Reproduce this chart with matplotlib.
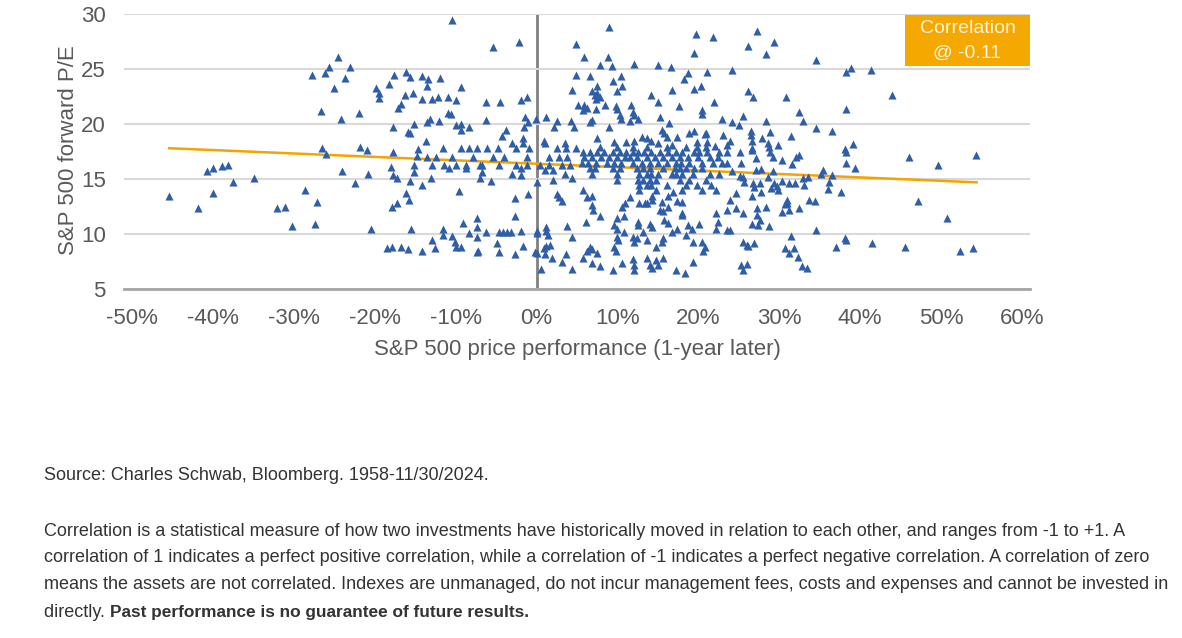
import numpy as np
import matplotlib
matplotlib.use("Agg")
import matplotlib.pyplot as plt
from matplotlib.patches import Rectangle

plt.rcParams['font.family'] = ['Liberation Sans', 'DejaVu Sans']

# (S&P 500 1-year-later price performance %, forward P/E)
far_left = [(-45.4, 13.5), (-41.9, 12.4), (-40.7, 15.7), (-40.0, 16.0), (-38.9, 16.2), (-38.1, 16.3),
            (-37.5, 14.7), (-40.0, 13.7), (-34.9, 15.1), (-32.1, 12.4), (-31.1, 12.5)]

left_low = [(-26.0, 17.3), (-24.0, 15.7), (-20.8, 15.5), (-22.4, 14.6), (-28.6, 14.0), (-27.1, 12.9),
            (-30.2, 10.7), (-27.4, 10.9), (-20.5, 10.5), (-21.0, 17.6), (-17.8, 17.5), (-18.0, 16.1),
            (-17.7, 15.4), (-17.2, 15.1), (-15.7, 14.8), (-15.2, 16.3), (-15.1, 15.6), (-14.8, 17.1),
            (-13.6, 17.0), (-14.1, 14.5), (-16.1, 13.7), (-15.8, 13.1), (-17.2, 12.8), (-17.9, 12.5),
            (-15.5, 10.5), (-18.5, 8.7), (-17.9, 8.8), (-16.8, 8.8), (-15.9, 8.6), (-14.1, 8.5)]

left_high = [(-24.6, 26.1), (-25.6, 25.2), (-23.0, 25.2), (-27.8, 24.5), (-26.2, 24.6), (-23.7, 24.2),
             (-25.1, 23.3), (-26.6, 21.2), (-22.0, 21.0), (-24.2, 20.5), (-26.5, 17.8), (-21.8, 17.9),
             (-19.8, 23.3), (-19.5, 22.8), (-19.5, 22.4), (-18.2, 23.6), (-17.6, 24.5), (-16.1, 24.7),
             (-15.6, 24.3), (-14.2, 24.4), (-13.5, 23.5), (-13.4, 24.1), (-16.2, 22.6), (-15.3, 22.8),
             (-14.1, 22.3), (-16.7, 21.8), (-17.1, 21.5), (-17.8, 19.7), (-15.2, 20.0), (-15.9, 19.3),
             (-15.6, 19.2), (-13.5, 20.2), (-13.7, 18.5), (-14.6, 17.7)]

mid_high = [(-10.4, 29.5), (-5.4, 27.0), (-2.2, 27.5), (4.9, 27.3), (-11.9, 24.2), (-9.4, 23.4),
            (-12.9, 22.3), (-12.2, 22.5), (-10.9, 22.5), (-9.9, 22.2), (-6.2, 22.0), (-4.5, 22.0),
            (-1.9, 22.2), (-1.2, 22.5), (4.9, 24.5), (4.4, 23.1), (5.1, 21.7), (-13.2, 20.5),
            (-12.1, 20.3), (-11.0, 21.0), (-10.6, 20.9), (-9.9, 19.9), (-9.4, 20.0), (-9.4, 19.5),
            (-8.3, 19.7), (-6.3, 20.4), (-3.8, 19.5), (-4.3, 18.9), (-3.0, 18.3), (-1.7, 18.7),
            (-1.6, 19.7), (-1.4, 20.6), (-1.1, 20.2), (-0.1, 20.5), (1.2, 20.6), (2.5, 20.3),
            (2.2, 19.7), (4.3, 20.3), (4.6, 19.7), (0.9, 18.5), (1.0, 18.3), (-1.7, 18.3), (3.5, 18.3)]

mid_rows = [(17.8, [-11.6, -9.3, -8.4, -7.3, -6.1, -4.8, -2.5, -0.9, 2.5, 3.7, 4.9]),
            (17.0, [-12.4, -10.4, -7.9, -5.4, -4.0, -1.2, 1.6, 2.8, 3.8]),
            (16.3, [-12.9, -11.4, -9.9, -8.7, -7.0, -6.7, -4.6, -2.5, -1.2, 0.4, 1.6, 3.1, 4.1])]

mid_low = [(-10.8, 16.0), (-8.7, 16.0), (-6.8, 15.6), (-3.0, 15.5), (-1.9, 16.0), (-1.9, 15.4),
           (1.0, 15.8), (2.0, 15.8), (3.5, 15.5), (-13.0, 15.1), (-7.0, 15.1), (-5.6, 14.8),
           (0.0, 14.7), (2.0, 14.9), (4.4, 15.1), (-9.6, 13.9), (-2.7, 13.3), (-1.0, 13.6),
           (2.5, 13.6), (2.8, 13.4), (3.1, 13.0), (-2.7, 11.6), (-7.4, 11.5), (-9.1, 11.0),
           (-7.4, 10.6), (-11.6, 10.5), (-6.2, 10.2), (-4.6, 10.2), (-4.1, 10.2), (-3.6, 10.2),
           (-3.1, 10.2), (-1.9, 10.3), (0.0, 10.3), (0.1, 10.1), (1.2, 10.6), (1.2, 10.3),
           (1.4, 9.9), (3.8, 10.7), (4.4, 9.7), (-12.9, 9.5), (-12.6, 8.7), (-11.6, 9.9),
           (-10.5, 9.8), (-10.1, 9.3), (-9.9, 8.8), (-9.4, 8.8), (-8.4, 10.1), (-7.3, 9.7),
           (-7.4, 8.4), (-7.2, 8.5), (-4.9, 9.2), (-4.6, 8.4), (-2.7, 8.2), (-1.7, 8.9),
           (-0.2, 8.4), (0.1, 8.3), (0.9, 8.7), (1.2, 8.9), (1.7, 9.0), (1.0, 8.2), (1.9, 7.8),
           (0.5, 6.8), (3.1, 7.5), (3.7, 8.2), (4.4, 6.8)]

right_high = [(8.9, 28.8), (19.7, 28.2), (21.8, 27.9), (19.5, 26.5), (5.9, 26.1), (8.8, 26.1),
              (7.8, 25.4), (9.3, 25.3), (12.0, 25.5), (15.0, 25.4), (16.6, 25.2), (18.7, 24.6),
              (18.2, 24.1), (21.1, 24.7), (6.6, 24.4), (10.5, 24.4), (9.4, 23.9), (10.6, 23.5),
              (7.5, 23.5), (6.8, 23.0), (7.2, 22.6), (7.5, 22.8), (7.8, 22.5), (7.3, 22.3),
              (10.0, 23.0), (14.2, 22.6), (16.8, 23.1), (19.5, 23.2), (20.3, 23.5), (15.0, 22.0),
              (17.6, 21.6), (21.9, 22.0), (5.9, 21.7), (6.2, 21.5), (5.7, 21.3), (7.3, 21.4),
              (8.5, 21.7), (9.8, 21.6), (9.9, 21.4), (11.7, 21.7), (11.9, 21.1), (12.1, 20.8),
              (12.5, 20.5), (10.3, 20.8), (10.5, 20.5), (11.5, 20.3), (15.2, 20.6), (16.4, 20.1),
              (20.4, 21.3), (20.5, 20.9), (22.9, 20.5), (6.6, 20.2), (6.9, 20.4), (9.0, 19.7),
              (15.5, 19.5), (15.8, 19.2), (16.1, 18.8), (17.4, 18.8), (18.9, 19.2), (19.5, 19.4),
              (20.8, 19.1), (21.0, 19.2), (23.1, 19.0), (7.5, 18.7), (9.6, 18.4), (19.8, 18.4),
              (21.1, 18.4), (11.1, 18.4), (12.1, 18.5), (13.0, 18.8), (13.6, 18.7), (14.2, 18.5),
              (15.0, 18.3), (16.8, 18.1), (18.5, 17.9), (23.5, 18.1), (7.8, 17.9), (9.9, 17.9),
              (11.9, 17.9), (13.6, 17.9), (16.1, 17.9), (19.8, 17.9), (21.0, 17.9), (22.0, 18.0)]

right_rows = [(17.5, [5.7, 6.6, 7.5, 8.4, 9.4, 10.3, 11.1, 11.9, 12.5, 13.3, 14.2, 15.2, 16.2, 17.3,
                      18.0, 19.5, 20.1, 21.1, 22.6, 23.5]),
              (17.0, [5.9, 6.9, 8.0, 9.0, 9.9, 10.9, 11.5, 12.4, 13.6, 14.6, 15.6, 16.7, 17.7, 18.7,
                      19.9, 21.4, 22.4]),
              (16.5, [5.6, 6.3, 7.4, 8.7, 9.6, 10.5, 11.9, 13.0, 14.0, 15.0, 16.1, 17.3, 17.9, 18.9,
                      20.4, 21.8, 22.9, 23.6]),
              (16.0, [6.6, 7.2, 9.4, 10.3, 12.4, 13.1, 14.0, 15.6, 17.1, 17.7, 18.5, 19.5, 20.4]),
              (15.5, [6.9, 9.9, 12.7, 13.6, 14.2, 15.0, 16.7, 17.3, 18.0, 19.3, 21.4, 22.6]),
              (14.9, [9.9, 12.5, 13.1, 14.0, 14.8, 17.7, 18.9, 21.0]),
              (14.5, [12.7, 13.6, 14.2, 16.1, 18.5, 19.8, 21.6]),
              (14.0, [12.7, 14.8, 18.0, 20.4, 22.2])]

right_low = [(5.7, 14.0), (6.8, 13.5), (6.2, 13.4), (6.8, 12.6), (7.0, 12.2), (7.9, 11.6), (6.1, 11.1),
             (11.5, 13.4), (10.9, 12.8), (10.6, 12.5), (12.7, 12.8), (13.4, 12.8), (13.7, 12.8),
             (14.3, 13.5), (14.3, 13.1), (15.5, 12.9), (15.2, 12.2), (15.6, 12.1), (16.2, 13.5),
             (16.9, 13.8), (16.2, 12.5), (17.4, 13.0), (18.0, 12.9), (18.0, 11.9), (18.0, 11.7),
             (10.8, 11.6), (9.9, 11.5), (9.6, 10.8), (9.9, 10.5), (12.5, 11.1), (12.6, 10.8),
             (14.0, 10.9), (14.3, 10.6), (15.8, 11.3), (16.3, 11.0), (16.7, 10.2), (10.8, 10.2),
             (13.1, 10.2), (17.4, 10.5), (18.7, 10.8), (19.2, 10.5), (20.1, 10.9), (22.2, 11.9),
             (22.4, 11.1), (22.2, 10.5), (23.5, 10.4), (23.5, 12.2), (9.9, 9.7), (10.1, 9.5),
             (11.9, 9.7), (12.1, 9.3), (12.4, 9.6), (13.6, 9.5), (15.6, 9.6), (15.5, 9.3),
             (14.8, 8.8), (18.5, 9.9), (19.3, 9.3), (20.5, 9.3), (20.8, 8.8), (20.6, 8.5),
             (6.6, 8.8), (6.9, 8.6), (6.2, 8.5), (7.5, 8.3), (9.6, 8.8), (9.8, 8.5), (5.7, 7.8),
             (6.8, 7.4), (7.8, 7.1), (9.4, 6.7), (10.6, 7.4), (11.9, 7.7), (12.1, 7.2), (12.0, 6.7),
             (13.6, 7.8), (14.0, 7.2), (14.3, 6.9), (14.8, 7.6), (15.6, 7.8), (15.0, 7.2),
             (17.3, 6.7), (18.3, 6.5), (19.4, 7.5)]

far_right = [(27.2, 28.5), (26.2, 27.1), (29.4, 27.5), (28.4, 26.4), (34.6, 25.8), (24.2, 24.9),
             (38.3, 24.7), (38.9, 25.1), (41.3, 24.9), (26.2, 23.0), (26.8, 22.5), (30.8, 22.5),
             (25.5, 20.7), (32.4, 21.1), (38.2, 21.4), (24.2, 20.2), (25.0, 19.9), (28.4, 20.3),
             (33.0, 20.3), (34.6, 19.6), (36.5, 19.4), (26.5, 19.4), (26.5, 19.0), (28.8, 19.3),
             (27.9, 18.7), (31.4, 18.9), (26.6, 18.5), (28.6, 18.3), (28.7, 17.9), (29.9, 18.1),
             (23.9, 18.5), (39.1, 18.2), (38.1, 17.7), (26.6, 17.8), (44.0, 22.6),
             (25.1, 17.5), (26.6, 17.6), (28.8, 17.5), (29.2, 17.0), (30.4, 16.7), (32.1, 17.0),
             (32.5, 17.2), (31.6, 16.4), (25.3, 16.5), (27.1, 16.9), (38.3, 17.5), (38.3, 16.5),
             (39.4, 16.0), (24.2, 15.7), (27.1, 15.8), (27.8, 15.9), (29.2, 15.7), (25.1, 15.3),
             (25.7, 14.7), (25.5, 15.2), (26.7, 14.6), (27.6, 14.6), (26.9, 14.3), (27.8, 13.8),
             (26.6, 13.5), (28.6, 15.2), (29.4, 14.6), (29.0, 14.2), (29.8, 14.0), (29.7, 14.4),
             (30.4, 14.8), (31.2, 14.6), (31.9, 14.6), (32.9, 15.1), (33.1, 14.5), (33.5, 15.2),
             (35.4, 15.8), (35.2, 15.5), (36.5, 15.4), (36.2, 14.7), (36.0, 14.1), (37.6, 13.8),
             (24.7, 13.7), (23.9, 13.1), (31.0, 13.1), (30.9, 12.8), (30.7, 12.7), (33.7, 13.1),
             (34.4, 13.0), (28.4, 12.5), (27.3, 12.4), (24.7, 12.4), (30.3, 12.0), (31.2, 12.2),
             (32.5, 12.4), (25.5, 11.9), (27.3, 11.7), (27.6, 11.3), (26.6, 10.9), (27.4, 10.8),
             (28.7, 10.7), (23.9, 10.4), (34.6, 10.4), (25.5, 9.3), (26.0, 9.0), (26.1, 8.9),
             (26.9, 9.2), (31.4, 9.8), (30.7, 8.7), (31.8, 8.7), (31.2, 8.3), (32.3, 7.9),
             (38.1, 9.6), (38.3, 9.5), (37.0, 8.8), (41.5, 9.2), (25.3, 7.2), (25.5, 6.7),
             (26.0, 7.3), (32.8, 7.1), (33.4, 6.9),
             (46.0, 17.0), (49.6, 16.3), (54.3, 17.2), (47.1, 13.0), (50.8, 11.5), (45.6, 8.8),
             (52.3, 8.5), (53.9, 8.7)]

# fitted trend line, endpoints as drawn
trend_x = [-45.4, 54.4]
trend_y = [17.8, 14.7]

x_ticks = [-50, -40, -30, -20, -10, 0, 10, 20, 30, 40, 50, 60]
y_ticks = [5, 10, 15, 20, 25, 30]

pairs = far_left + left_low + left_high + mid_high + mid_low + right_high + right_low + far_right
for pe, xs in mid_rows + right_rows:
    pairs += [(x, pe) for x in xs]
pts = np.array(pairs)

fig = plt.figure(figsize=(11.82, 6.38), dpi=100)
ax = fig.add_axes([0.1049, 0.547, 0.7665, 0.431])

ax.plot(trend_x, trend_y, color='#f5a300', lw=1.8, zorder=2)
ax.scatter(pts[:, 0], pts[:, 1], marker='^', s=34, color='#2f5ea8', linewidths=0, zorder=3)
ax.axvline(0, color='#808080', lw=2, zorder=1)

ax.set_xlim(-51, 61)
ax.set_ylim(5, 30)
ax.set_xticks(x_ticks)
ax.set_xticklabels([f"{t}%" for t in x_ticks])
ax.set_yticks(y_ticks)
ax.grid(axis='y', color='#d9d9d9', lw=1.5, zorder=0)
for s in ['top', 'right', 'left']:
    ax.spines[s].set_visible(False)
ax.spines['bottom'].set_color('#a6a6a6')
ax.spines['bottom'].set_linewidth(2)
ax.tick_params(length=0, labelsize=16, colors='#595959')
ax.tick_params(axis='x', pad=14)
ax.tick_params(axis='y', pad=13)

fig.text(68 / 1182, 1 - 150 / 638, "S&P 500 forward P/E", rotation=90, fontsize=16,
         color='#595959', ha='center', va='center')
fig.text(577 / 1182, 1 - 350 / 638, "S&P 500 price performance (1-year later)", fontsize=16,
         color='#595959', ha='center', va='center')

# correlation badge
ax.add_patch(Rectangle((0.862, 0.812), 0.138, 0.184, transform=ax.transAxes,
                       facecolor='#f5a800', edgecolor='none', zorder=4, clip_on=False))
ax.text(0.931, 0.902, "Correlation\n@ -0.11", transform=ax.transAxes, ha='center', va='center',
        fontsize=14, color='#fff4dc', linespacing=1.55, zorder=5)

body = dict(color='#333333', ha='left')
fig.text(44 / 1182, 1 - 476 / 638, "Source: Charles Schwab, Bloomberg. 1958-11/30/2024.",
         fontsize=13, va='center', **body)
lines = ["Correlation is a statistical measure of how two investments have historically moved in relation to each other, and ranges from -1 to +1. A",
         "correlation of 1 indicates a perfect positive correlation, while a correlation of -1 indicates a perfect negative correlation. A correlation of zero",
         "means the assets are not correlated. Indexes are unmanaged, do not incur management fees, costs and expenses and cannot be invested in"]
for i, ln in enumerate(lines):
    fig.text(44 / 1182, 1 - (531 + 26.7 * i) / 638, ln, fontsize=13, va='center', **body)
last_y = 1 - 617 / 638
t = fig.text(44 / 1182, last_y, "directly. ", fontsize=13, va='baseline', **body)
fig.canvas.draw()
bb = t.get_window_extent()
fig.text(bb.x1 / fig.bbox.width, last_y, "Past performance is no guarantee of future results.",
         fontsize=12.4, fontweight='bold', va='baseline', **body)

fig.savefig("out.png", dpi=100)
